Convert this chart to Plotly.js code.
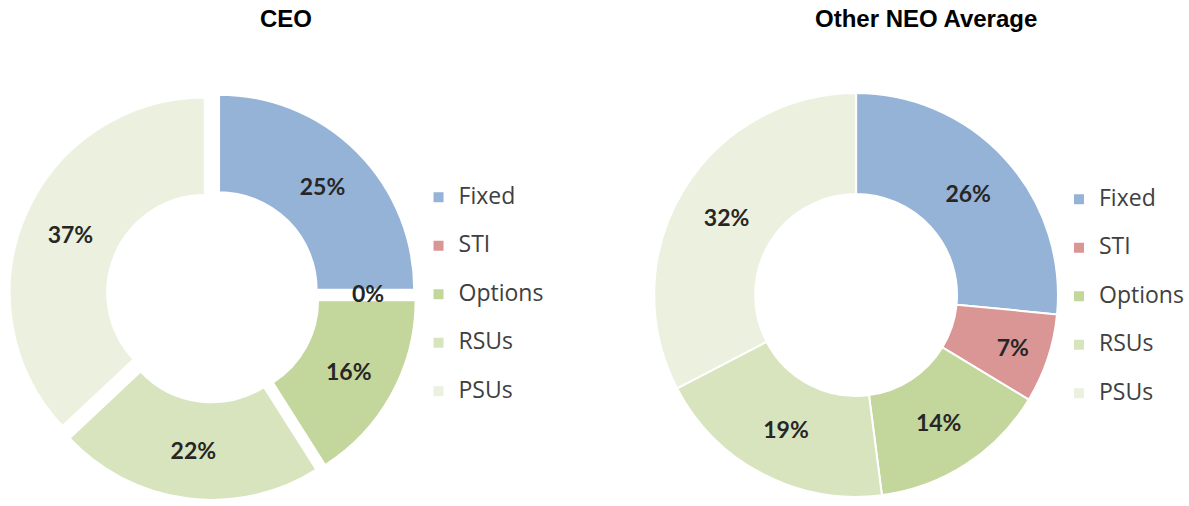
<!DOCTYPE html>
<html>
<head>
<meta charset="utf-8">
<script src="https://cdn.plot.ly/plotly-3.0.1.min.js"></script>
<style>html,body{margin:0;padding:0;background:#fff;}#chart{width:1189px;height:506px;}</style>
</head>
<body>
<div id="chart"></div>
<script>
const categories = ["Fixed", "STI", "Options", "RSUs", "PSUs"];
const ceoValues = [25, 0, 16, 22, 37];
const neoValues = [26, 7, 14, 19, 32];
const chartTitles = ["CEO", "Other NEO Average"];
const sliceColors = ["#95b3d7", "#d99694", "#c3d69b", "#d7e4bd", "#ebf1de"];

const W = 1189, H = 506, HOLE = 0.5;
const labelFont = {family: "Lato, 'Open Sans', sans-serif", size: 23, color: "#262626", weight: "bold"};
// Each chart has its own legend; the span style differs slightly per chart so that
// Plotly does not merge same-named slices of the two pies into one legend.
const legendLabels = k => categories.map(c => '<span style="font-size:23px;baseline-shift:7px' + ';'.repeat(k) + '">' + c + '</span>');

const pies = [
  {values: ceoValues, domain: {x: [0.006, 0.352], y: [0.012, 0.818]}, legend: "legend", pull: 0.045},
  {values: neoValues, domain: {x: [0.548, 0.892], y: [0.018, 0.816]}, legend: "legend2", pull: 0}
];

function pieTrace(p, k) {
  return {
    type: "pie",
    labels: legendLabels(k),
    values: p.values,
    sort: false,
    direction: "clockwise",
    hole: HOLE,
    pull: p.pull,
    domain: p.domain,
    legend: p.legend,
    marker: {colors: sliceColors, line: {color: "#ffffff", width: 2}},
    texttemplate: p.values.map(v => v === 0 ? "" : "%{value}%"),
    textposition: "inside",
    insidetextorientation: "horizontal",
    textfont: labelFont,
    hoverinfo: "label+value"
  };
}

// Labels for zero-value slices (Plotly cannot place text in an empty slice):
// placed at the slice's angle, mid-ring, using the same geometry Plotly uses.
function zeroSliceAnnotations(p) {
  const total = p.values.reduce((a, b) => a + b, 0);
  const wpx = (p.domain.x[1] - p.domain.x[0]) * W;
  const hpx = (p.domain.y[1] - p.domain.y[0]) * H;
  const cx = (p.domain.x[0] + p.domain.x[1]) / 2 * W;
  const cy = (1 - (p.domain.y[0] + p.domain.y[1]) / 2) * H;
  const r = Math.min(wpx, hpx) / (2 + 2 * p.pull);
  const out = [];
  let cum = 0;
  p.values.forEach(v => {
    if (v === 0) {
      const th = cum / total * 2 * Math.PI;
      const R = r * (1 + HOLE) / 2 + p.pull * r;
      const x = cx + R * Math.sin(th), y = cy - R * Math.cos(th);
      out.push({text: v + "%", x: x / W, y: 1 - (y - 3) / H, xref: "paper", yref: "paper",
        xanchor: "center", yanchor: "middle", showarrow: false, font: labelFont});
    }
    cum += v;
  });
  return out;
}

const data = pies.map(pieTrace);

const legendFont = {family: "'Open Sans', sans-serif", size: 35, color: "#404040"};
const titleFont = {family: "'Liberation Sans', Arial, sans-serif", size: 24, color: "#000"};
const layout = {
  width: W, height: H,
  margin: {l: 0, r: 0, t: 0, b: 0},
  paper_bgcolor: "#ffffff",
  showlegend: true,
  legend: {x: 0.352, xanchor: "left", y: 0.418, yanchor: "middle", font: legendFont, bgcolor: "rgba(0,0,0,0)"},
  legend2: {x: 1, xanchor: "right", y: 0.414, yanchor: "middle", font: legendFont, bgcolor: "rgba(0,0,0,0)"},
  annotations: [
    {text: "<b>" + chartTitles[0] + "</b>", x: 0.2403, y: 0.9634, xref: "paper", yref: "paper", xanchor: "center", yanchor: "middle", showarrow: false, font: titleFont},
    {text: "<b>" + chartTitles[1] + "</b>", x: 0.7784, y: 0.9634, xref: "paper", yref: "paper", xanchor: "center", yanchor: "middle", showarrow: false, font: titleFont}
  ].concat(...pies.map(zeroSliceAnnotations))
};

Plotly.newPlot("chart", data, layout, {displayModeBar: false, staticPlot: true});
</script>
</body>
</html>
